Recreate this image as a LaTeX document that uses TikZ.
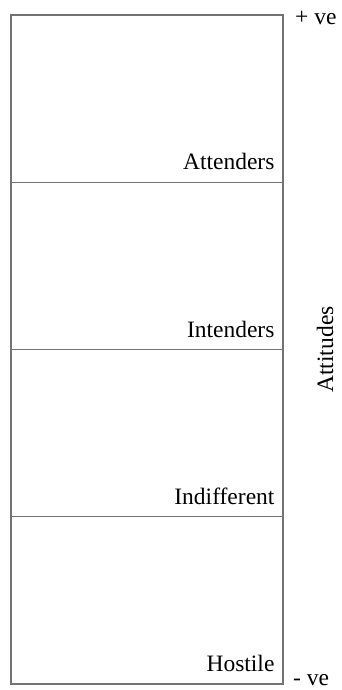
\documentclass[tikz,border=0pt]{standalone}
\usepackage{fontspec}
\setmainfont{Liberation Serif}
\usepackage{tikz}
\usetikzlibrary{positioning}

\begin{document}
\begin{tikzpicture}[x=1pt, y=-1pt, node distance=167.25pt]
\tikzstyle{band} = [rectangle, minimum width=272pt, minimum height=167.25pt, inner sep=0pt, draw=black!55, line width=1.3pt]
\tikzstyle{tag} = [inner sep=0pt, font=\fontsize{23.5}{27}\selectfont]

\useasboundingbox (0,0) rectangle (341,690);

\node (att) [band] at (147,98.6) {};
\node (int) [band, below of=att] {};
\node (ind) [band, below of=int] {};
\node (hos) [band, below of=ind] {};

\node (attl) [tag, anchor=base east] at ([xshift=-9pt, yshift=13pt]att.south east) {Attenders};
\node (intl) [tag, anchor=base east] at ([xshift=-9pt, yshift=13pt]int.south east) {Intenders};
\node (indl) [tag, anchor=base east] at ([xshift=-9pt, yshift=13pt]ind.south east) {Indifferent};
\node (hosl) [tag, anchor=base east] at ([xshift=-9pt, yshift=13pt]hos.south east) {Hostile};

\node (pos) [tag, anchor=base west] at (295,25) {+ ve};
\node (neg) [tag, anchor=base west] at (293,685) {- ve};
\node (axis) [tag, rotate=90] at (325,349.5) {Attitudes};
\end{tikzpicture}
\end{document}
